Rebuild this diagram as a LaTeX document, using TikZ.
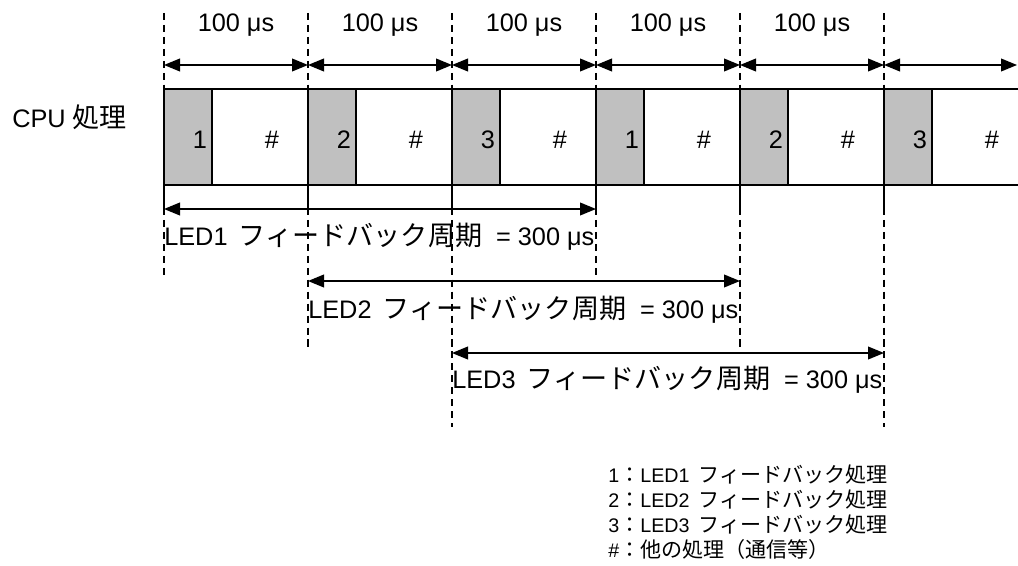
\documentclass[tikz,border=0pt]{standalone}
\usepackage{fontspec}
\setmainfont{Liberation Sans}
\newfontfamily\cjk[Scale=1.07]{Noto Sans CJK JP}
\usetikzlibrary{positioning,calc,arrows.meta}
\definecolor{slotgray}{RGB}{192,192,192}
\begin{document}
\begin{tikzpicture}[x=0.025cm,y=-0.025cm,
  box/.style={line width=1.4pt},
  guide/.style={line width=0.9pt,dash pattern=on 5pt off 3.5pt},
  span/.style={{Triangle[length=0.4cm,width=0.32cm]}-{Triangle[length=0.4cm,width=0.32cm]},line width=1pt},
  big/.style={font=\fontsize{18}{22}\selectfont,inner sep=0pt},
  small/.style={font=\fontsize{14}{16}\selectfont,inner sep=0pt,anchor=base west}]
\useasboundingbox (0,0) rectangle (1018,565);
\node[big,anchor=base west] (cpu) at (12,127) {CPU {\cjk 処理}};
\foreach \n/\e/\ly [count=\i from 0] in {1/277/209,2/348/281,3/427/353,1/277/209,2/348/281,3/427/353}{
  \pgfmathsetmacro\xa{164+144*\i}
  \fill[slotgray] (\xa,89) rectangle ++(48,96);
  \draw[box] (\xa,89) -- (\xa,208) (\xa+48,89) -- (\xa+48,185);
  \draw[guide] (\xa,13) -- (\xa,89) (\xa,208) -- (\xa,\e);
  \node[big,anchor=base] (n\i) at (\xa+36,148) {\n};
  \node[big,anchor=base] (h\i) at (\xa+108,148) {\#};
  \coordinate (t\i) at (\xa,65);
  \coordinate (p\i) at (\xa,\ly);
}
\draw[box] (164,89) -- (1018,89) (164,185) -- (1018,185);
\coordinate (tend) at (1017,65);
\foreach \i/\j in {0/1,1/2,2/3,3/4,4/5}{
  \draw[span] (t\i) -- (t\j);
  \node[big,anchor=base] (us\i) at ($(t\i)!0.5!(t\j)+(0,-33)$) {100 μs};
}
\draw[span] (t5) -- (tend);
\foreach \i/\j in {0/3,1/4,2/5} \draw[span] (p\i) -- (p\j);
\node[big,anchor=base west] (led1) at ($(p0)+(0,36)$) {\makebox[10.75cm][l]{LED1\hspace{0.45em}{\cjk フィードバック周期}\hfill= 300 μs}};
\node[big,anchor=base west] (led2) at ($(p1)+(0,37)$) {\makebox[10.75cm][l]{LED2\hspace{0.45em}{\cjk フィードバック周期}\hfill= 300 μs}};
\node[big,anchor=base west] (led3) at ($(p2)+(0,35)$) {\makebox[10.75cm][l]{LED3\hspace{0.45em}{\cjk フィードバック周期}\hfill= 300 μs}};
\node[small] (key1) at (608,482) {1{\cjk ：}LED1\hspace{0.45em}{\cjk フィードバック処理}};
\node[small] (key2) at (608,507) {2{\cjk ：}LED2\hspace{0.45em}{\cjk フィードバック処理}};
\node[small] (key3) at (608,532) {3{\cjk ：}LED3\hspace{0.45em}{\cjk フィードバック処理}};
\node[small] (key4) at (608,557) {\#{\cjk ：他の処理（通信等）}};
\end{tikzpicture}
\end{document}
